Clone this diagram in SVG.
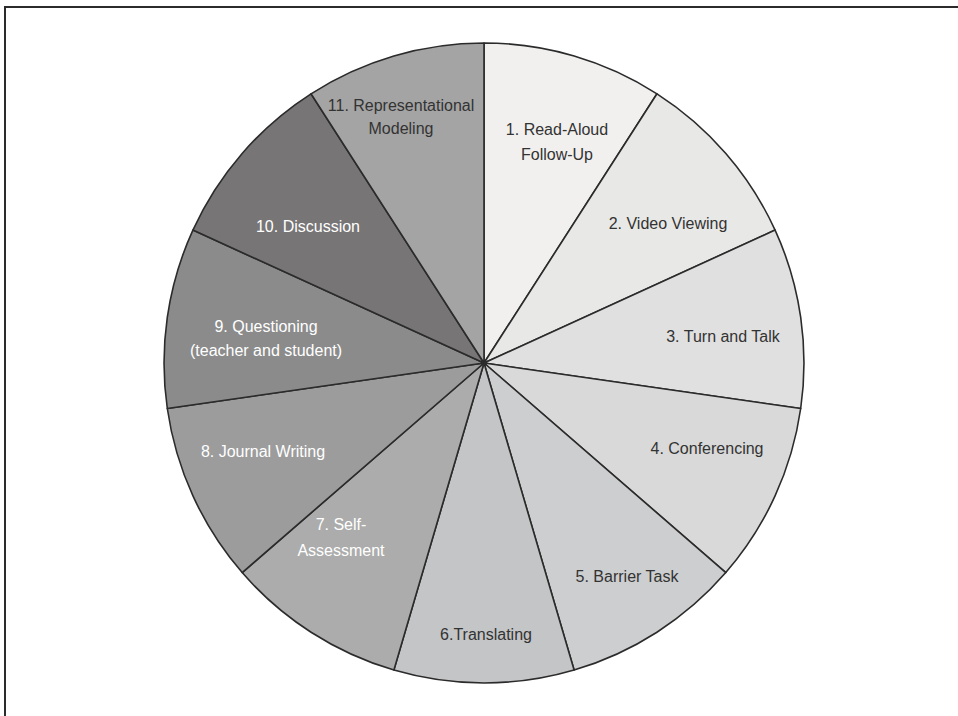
<svg xmlns="http://www.w3.org/2000/svg" width="958" height="716" viewBox="0 0 958 716">
<style>
.s{stroke:#2b2b2b;stroke-width:1.6;stroke-linejoin:round}
text{font-family:"Liberation Sans",Arial,sans-serif;font-size:16px;text-anchor:middle}
.d{fill:#333}
.w{fill:#ffffff}
</style>
<rect width="958" height="716" fill="#ffffff"/>
<g id="frame" fill="none" stroke="#2b2b2b" stroke-width="2">
<path d="M5 716V7H958"/>
</g>
<g id="slice1"><path class="s" fill="#f1f0ef" d="M484 363L484 43A320 320 0 0 1 657 93.8Z"/><text class="d" x="557" y="135">1. Read-Aloud</text><text class="d" x="557" y="160">Follow-Up</text></g>
<g id="slice2"><path class="s" fill="#e8e8e7" d="M484 363L657 93.8A320 320 0 0 1 775.1 230.1Z"/><text class="d" x="668" y="229">2. Video Viewing</text></g>
<g id="slice3"><path class="s" fill="#e0e0e0" d="M484 363L775.1 230.1A320 320 0 0 1 800.7 408.5Z"/><text class="d" x="723" y="342">3. Turn and Talk</text></g>
<g id="slice4"><path class="s" fill="#d8d9d8" d="M484 363L800.7 408.5A320 320 0 0 1 725.8 572.6Z"/><text class="d" x="707" y="454">4. Conferencing</text></g>
<g id="slice5"><path class="s" fill="#cdcecf" d="M484 363L725.8 572.6A320 320 0 0 1 574.1 670Z"/><text class="d" x="627" y="582">5. Barrier Task</text></g>
<g id="slice6"><path class="s" fill="#c4c5c6" d="M484 363L574.1 670A320 320 0 0 1 393.9 670Z"/><text class="d" x="486" y="640">6.Translating</text></g>
<g id="slice7"><path class="s" fill="#abacab" d="M484 363L393.9 670A320 320 0 0 1 242.2 572.6Z"/><text class="w" x="341" y="530">7. Self-</text><text class="w" x="341" y="556">Assessment</text></g>
<g id="slice8"><path class="s" fill="#9c9c9c" d="M484 363L242.2 572.6A320 320 0 0 1 167.3 408.5Z"/><text class="w" x="263" y="457">8. Journal Writing</text></g>
<g id="slice9"><path class="s" fill="#8b8b8b" d="M484 363L167.3 408.5A320 320 0 0 1 192.9 230.1Z"/><text class="w" x="266" y="332">9. Questioning</text><text class="w" x="266" y="356">(teacher and student)</text></g>
<g id="slice10"><path class="s" fill="#777576" d="M484 363L192.9 230.1A320 320 0 0 1 311 93.8Z"/><text class="w" x="308" y="232">10. Discussion</text></g>
<g id="slice11"><path class="s" fill="#a4a4a4" d="M484 363L311 93.8A320 320 0 0 1 484 43Z"/><text class="d" x="401" y="111">11. Representational</text><text class="d" x="401" y="134">Modeling</text></g>
<g id="connectors"><circle cx="484" cy="363" r="2.5" fill="#2b2b2b"/></g>
</svg>
